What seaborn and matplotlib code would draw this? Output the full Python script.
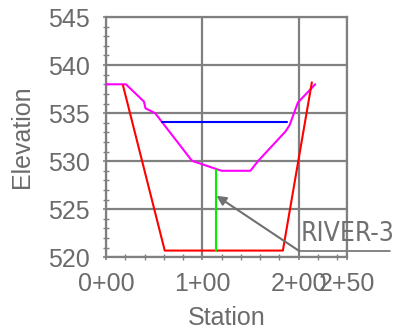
import numpy as np
import pandas as pd
import seaborn as sns
import matplotlib.pyplot as plt
from matplotlib.ticker import MultipleLocator

# cross-section data (station, elevation)
ground_sta = [0, 20.7, 39.4, 41, 51, 88.8, 90.5, 120, 150, 157.8, 186.5, 190.7, 199.3, 217.3]
ground_elev = [538, 538, 536.2, 535.5, 535.0, 530.1, 530.0, 529.0, 529.0, 530.0, 533.1, 533.75, 536.1, 538.0]

channel_sta = [17.6, 61, 183.7, 213.8]
channel_elev = [537.9, 520.7, 520.7, 538.2]

water_sta = [57.7, 187.9]
water_elev = [534.1, 534.1]

thalweg_sta = [114.7, 114.7]
thalweg_elev = [529.1, 520.7]

xticks = [0, 100, 200, 250]
xticklabels = ['0+00', '1+00', '2+00', '2+50']
yticks = [520, 525, 530, 535, 540, 545]

sns.set_theme(style='white')
plt.rcParams['font.family'] = ['Liberation Sans', 'DejaVu Sans']

grey = '#808080'
txt = '#6b6b6b'

fig = plt.figure(figsize=(3.96, 3.32), dpi=100)
ax = fig.add_axes([106 / 396, 1 - 257.3 / 332, (346.7 - 106) / 396, (257.3 - 17) / 332])

for s, e, c in [(ground_sta, ground_elev, '#ff00ff'),
                (channel_sta, channel_elev, '#ff0000'),
                (water_sta, water_elev, '#0000ff'),
                (thalweg_sta, thalweg_elev, '#00ee00')]:
    df = pd.DataFrame({'station': s, 'elev': e})
    sns.lineplot(data=df, x='station', y='elev', sort=False, estimator=None,
                 color=c, lw=1.5, ax=ax, zorder=3)

ax.set_xlim(0, 250)
ax.set_ylim(520, 545)
ax.set_xticks(xticks)
ax.set_xticklabels(xticklabels)
ax.set_yticks(yticks)
ax.xaxis.set_minor_locator(MultipleLocator(20))
ax.yaxis.set_minor_locator(MultipleLocator(1))
ax.grid(True, which='major', color=grey, lw=1.6)
ax.set_axisbelow(True)
for sp in ax.spines.values():
    sp.set_color(grey)
    sp.set_linewidth(1.6)

ax.tick_params(which='major', direction='inout', length=5, width=1.2, color=grey,
               labelsize=18, labelcolor=txt, bottom=True, left=True)
ax.tick_params(axis='y', which='major', pad=9)
ax.tick_params(axis='x', which='major', pad=8)
ax.tick_params(which='minor', direction='inout', length=4, width=1, color=grey,
               bottom=True, left=True)
ax.set_xlabel('Station', fontsize=18, color=txt, labelpad=7)
ax.set_ylabel('Elevation', fontsize=18, color=txt)
ax.yaxis.set_label_coords(-0.30, 0.5)

# annotation
ax.annotate('', xy=(114.7, 526.4), xytext=(200, 520.7),
            arrowprops=dict(arrowstyle='-|>', color='#707070', lw=1.5,
                            mutation_scale=14, shrinkA=0, shrinkB=0),
            annotation_clip=False, zorder=4)
ax.plot([200, 295], [520.7, 520.7], color='#707070', lw=1.2, clip_on=False)
ax.text(202, 521.1, 'RIVER-3', fontsize=19, color='#707070',
        family='DejaVu Sans', fontstretch='condensed', ha='left', va='bottom',
        clip_on=False)

fig.savefig('out.png', dpi=100)
